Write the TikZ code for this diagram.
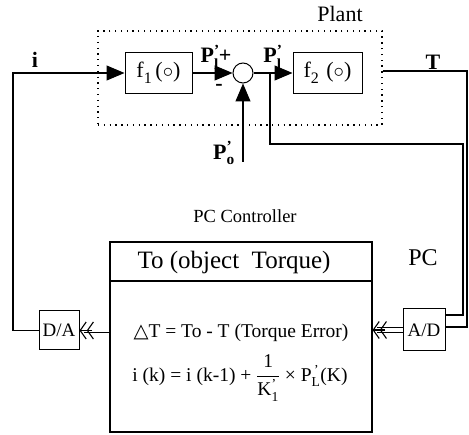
\documentclass[tikz,border=0pt]{standalone}
\usepackage{amsmath}
\usepackage{fontspec}
\setmainfont{Liberation Serif}
\newfontfamily\djv{DejaVu Sans}
\usetikzlibrary{arrows.meta,calc}
\begin{document}
\begin{tikzpicture}[x=1pt,y=-1pt,
  blk/.style={draw, line width=1pt, inner sep=0pt, font=\fontsize{22}{24}\selectfont},
  wire/.style={line width=1.1pt},
  tri/.style={-{Triangle[length=18pt,width=15pt]}},
  dbl/.style={double, double distance=4pt, line width=0.9pt, shorten >=4pt},
  dtip/.style={line width=1.1pt, -{Straight Barb[length=6pt,width=17pt]Straight Barb[length=6pt,width=17pt]}},
  lbl/.style={inner sep=0pt, font=\fontsize{22}{24}\selectfont\bfseries},
  txt/.style={inner sep=0pt, font=\fontsize{22}{24}\selectfont},
]
\useasboundingbox (0,0) rectangle (469,435);
% plant
\node[draw, dash pattern=on 1.3pt off 4.5pt, line width=1.3pt, minimum width=284pt, minimum height=94pt, inner sep=0pt] (plant) at (240,78) {};
\node[txt] (plantlbl) at (340,14) {Plant};
\node[blk, minimum width=67pt, minimum height=41pt] (f1) at (158.5,73) {f\raisebox{-6pt}{\fontsize{16}{16}\selectfont 1}\,($\circ$)};
\node[blk, minimum width=69pt, minimum height=41pt] (f2) at (327.5,73) {f\raisebox{-6pt}{\fontsize{16}{16}\selectfont 2}\,\,($\circ$)};
\node[circle, draw, line width=1pt, minimum size=20pt, inner sep=0pt] (sum) at (243,73) {};
% labels
\node[lbl] (ilbl) at (35,60) {i};
\node[lbl] (tlbl) at (433,62) {T};
\node[lbl] (pl1) at (216,57) {P$^{\text{'}}_{\text{l}}$\kern-1pt+};
\node[lbl] (minus) at (219,87) {-};
\node[lbl] (pl2) at (273,57) {P$^{\text{'}}_{\text{l}}$};
\node[lbl] (polbl) at (224,153) {P$^{\text{'}}_{\text{o}}$};
% controller
\node[txt, font=\fontsize{18.5}{20}\selectfont] (pcc) at (245,216) {PC Controller};
\node[draw, line width=1.1pt, minimum width=262pt, minimum height=190pt, inner sep=0pt] (ctrl) at (241,337) {};
\coordinate (divy) at (0,281);
\draw[line width=1.1pt] (ctrl.west |- divy) -- (ctrl.east |- divy);
\node[txt, font=\fontsize{25}{27}\selectfont] (title) at (234,262) {To (object\ \ Torque)};
\node[txt, font=\fontsize{24}{26}\selectfont] (pclbl) at (423,258) {PC};
\node[txt, font=\fontsize{19.5}{21}\selectfont] (dt) at (241,333) {{\djv △}T = To - T (Torque Error)};
\node[txt, font=\fontsize{19.5}{21}\selectfont] (ik) at (240,378) {i (k) = i (k-1) + $\dfrac{\text{1}}{\text{K}^{\text{'}}_{\text{1}}}$ × P$^{\,\text{'}}_{\text{L}}$(K)};
\node[blk, font=\fontsize{19}{21}\selectfont, minimum width=40pt, minimum height=39pt] (da) at (59,330.5) {D/A};
\node[blk, font=\fontsize{19}{21}\selectfont, minimum width=42pt, minimum height=42pt] (ad) at (424,330) {A/D};
% wires
\coordinate (inL) at (13,73);
\coordinate (daL) at (13,330.5);
\draw[wire,tri] (da.west) -- (daL) -- (inL) -- (f1.west);
\draw[wire,tri] (f1.east) -- (sum.west);
\draw[wire,tri] (sum.east) -- (f2.west);
\coordinate (br) at (270,73);
\coordinate (brD) at (270,144);
\coordinate (adU) at (463,315);
\draw[wire] (br) -- (brD) -- (brD -| adU) -- (adU) -- (adU -| ad.east);
\coordinate (tR) at (467,71);
\coordinate (tD) at (467,327);
\draw[wire] (plant.east |- tR) -- (tR) -- (tD) -- (tD -| ad.east);
\coordinate (po) at (243,162);
\draw[wire,tri] (po) -- (sum.south);
% double arrows
\draw[dbl] (ctrl.west |- da.east) -- (da.east);
\draw[dtip] ($(da.east)+(12.5,0)$) -- (da.east);
\draw[dbl] (ad.west) -- (ad.west -| ctrl.east);
\draw[dtip] ($(ad.west -| ctrl.east)+(12.5,0)$) -- (ad.west -| ctrl.east);
\end{tikzpicture}
\end{document}
